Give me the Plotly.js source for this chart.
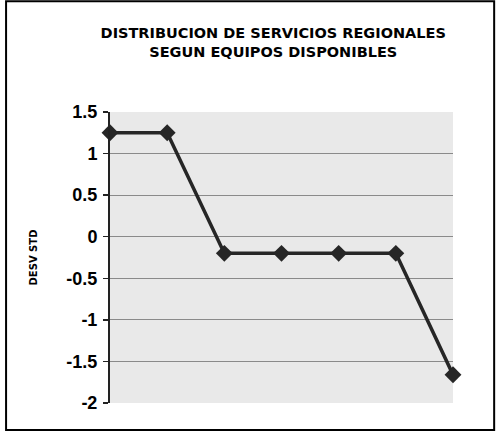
<!DOCTYPE html>
<html>
<head>
<meta charset="utf-8">
<script src="https://cdn.plot.ly/plotly-3.0.1.min.js"></script>
<style>
html,body{margin:0;padding:0;background:#fff;}
#chart{width:496px;height:434px;}
</style>
</head>
<body>
<div id="chart"></div>
<script>
// Data
var categories = [1, 2, 3, 4, 5, 6, 7];
var desvStd = [1.25, 1.25, -0.2, -0.2, -0.2, -0.2, -1.66];
var yTickVals = [1.5, 1, 0.5, 0, -0.5, -1, -1.5, -2];
var yTickText = ['1.5', '1', '0.5', '0', '-0.5', '-1', '-1.5', '-2'];

var trace = {
  x: categories,
  y: desvStd,
  type: 'scatter',
  mode: 'lines+markers',
  line: {color: '#262626', width: 3.5},
  marker: {symbol: 'diamond', size: 13, color: '#262626'},
  cliponaxis: false,
  hoverinfo: 'none'
};

var layout = {
  width: 496,
  height: 434,
  margin: {l: 110, r: 43, t: 112, b: 31},
  paper_bgcolor: '#ffffff',
  plot_bgcolor: '#e9e9e9',
  showlegend: false,
  title: {
    text: '<b>DISTRIBUCION DE SERVICIOS REGIONALES<br>SEGUN EQUIPOS DISPONIBLES</b>',
    font: {family: 'DejaVu Sans', size: 14.5, color: '#000', lineposition: 'none'},
    x: 0.476, xanchor: 'center', xref: 'paper',
    y: 0.912, yanchor: 'top', yref: 'container'
  },
  xaxis: {
    range: [1, 7],
    showgrid: false,
    zeroline: false,
    showline: false,
    showticklabels: false,
    ticks: ''
  },
  yaxis: {
    range: [-2, 1.5],
    tickvals: yTickVals,
    ticktext: yTickText,
    showgrid: true,
    gridcolor: '#8a8a8a',
    gridwidth: 1,
    zeroline: false,
    showline: true,
    linecolor: '#222',
    linewidth: 2,
    ticks: 'outside',
    ticklen: 5,
    tickcolor: '#222',
    tickwidth: 1.5,
    ticklabelstandoff: 2,
    tickfont: {family: 'Liberation Sans', size: 18, color: '#000', weight: 'bold'},
    title: {
      text: '<b>DESV STD</b>',
      font: {family: 'DejaVu Sans', size: 10, color: '#000'},
      standoff: 27
    }
  },
  shapes: [{
    type: 'rect', xref: 'paper', yref: 'paper',
    x0: -0.303, x1: 1.12, y0: -0.093, y1: 1.381,
    line: {color: '#000', width: 2},
    fillcolor: 'rgba(0,0,0,0)'
  }]
};

Plotly.newPlot('chart', [trace], layout, {displayModeBar: false, staticPlot: true});
</script>
</body>
</html>
